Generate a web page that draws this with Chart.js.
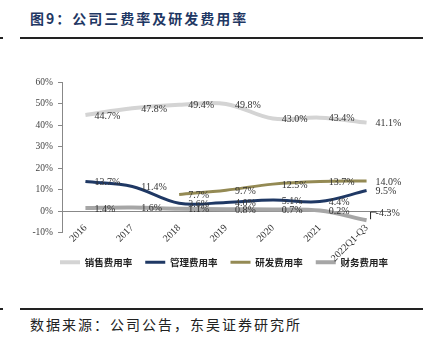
<!DOCTYPE html>
<html>
<head>
<meta charset="utf-8">
<script src="https://cdn.jsdelivr.net/npm/chart.js@4.4.0/dist/chart.umd.min.js"></script>
<style>
  html, body { margin: 0; padding: 0; background: #fff; }
  body { width: 434px; height: 350px; position: relative; overflow: hidden; }
  .title { position: absolute; left: 30px; top: 8px; font: bold 14px "Noto Sans CJK SC", serif; letter-spacing: 2px; color: #1F3864; }
  .rule { position: absolute; left: 20px; width: 403px; height: 2px; background: #222; }
  .dash { position: absolute; left: 0; width: 3px; height: 2px; background: #222; }
  .src { position: absolute; left: 30px; top: 314px; font: 14px "Noto Sans CJK SC", serif; letter-spacing: 2px; color: #222; }
  #wrap { position: absolute; left: 0; top: 60px; width: 434px; height: 220px; }
</style>
</head>
<body>
<div class="title">图9：公司三费率及研发费用率</div>
<div class="dash" style="top:37px"></div>
<div class="rule" style="top:37px"></div>
<div id="wrap"><canvas id="feeChart"></canvas></div>
<div class="dash" style="top:308px"></div>
<div class="rule" style="top:308px"></div>
<div class="src">数据来源：公司公告，东吴证券研究所</div>
<script>
const years = ['2016', '2017', '2018', '2019', '2020', '2021', '2022Q1-Q3'];
const salesRate = [44.7, 47.8, 49.4, 49.8, 43.0, 43.4, 41.1];
const adminRate = [13.7, 11.4, 3.6, 4.0, 5.1, 4.4, 9.5];
const rdRate = [null, null, 7.7, 9.7, 12.5, 13.7, 14.0];
const financeRate = [1.4, 1.6, 1.1, 0.8, 0.7, 0.2, -4.3];
const yTicks = [-10, 0, 10, 20, 30, 40, 50, 60];

// value labels to the right of each point
const pointLabels = {
    id: 'pointLabels',
    afterDatasetsDraw(chart) {
        const ctx = chart.ctx;
        const yScale = chart.scales.y;
        ctx.save();
        ctx.font = '10px "Liberation Serif"';
        ctx.fillStyle = '#333';
        ctx.textAlign = 'left';
        ctx.textBaseline = 'middle';
        chart.data.datasets.forEach(function (ds, i) {
            const meta = chart.getDatasetMeta(i);
            meta.data.forEach(function (pt, j) {
                const v = ds.data[j];
                if (v === null) return;
                let y = pt.y + 1;
                if (v < 0) {
                    // leader line up to the zero line
                    const y0 = yScale.getPixelForValue(0);
                    ctx.strokeStyle = '#222';
                    ctx.lineWidth = 1;
                    ctx.beginPath();
                    ctx.moveTo(pt.x + 4, pt.y - 1);
                    ctx.lineTo(pt.x + 4, y0 + 1);
                    ctx.lineTo(pt.x + 10, y0 + 1);
                    ctx.stroke();
                    y = y0 + 2;
                }
                ctx.fillText(v.toFixed(1) + '%', pt.x + 9, y);
            });
        });
        ctx.restore();
    }
};

// leave room under the axis for the rotated year labels
const legendShift = {
    id: 'legendShift',
    afterLayout(chart) {
        const lg = chart.legend;
        if (lg) {
            lg.top += 12;
            lg.bottom += 12;
            lg.left += 29;
            lg.right += 29;
        }
    }
};

new Chart(document.getElementById('feeChart'), {
    type: 'line',
    data: {
        labels: years,
        datasets: [
            { label: '销售费用率', data: salesRate, borderColor: '#D4D4D4', backgroundColor: '#D4D4D4', borderWidth: 4 },
            { label: '管理费用率', data: adminRate, borderColor: '#1F3864', backgroundColor: '#1F3864', borderWidth: 3 },
            { label: '研发费用率', data: rdRate, borderColor: '#948A54', backgroundColor: '#948A54', borderWidth: 3 },
            { label: '财务费用率', data: financeRate, borderColor: '#A6A6A6', backgroundColor: '#A6A6A6', borderWidth: 4 }
        ]
    },
    options: {
        responsive: true,
        maintainAspectRatio: false,
        animation: false,
        elements: {
            point: { radius: 0 },
            line: { tension: 0.35 }
        },
        layout: { padding: { top: 22, right: 44, bottom: 15, left: 0 } },
        plugins: {
            tooltip: { enabled: false },
            legend: {
                position: 'bottom',
                labels: {
                    usePointStyle: true,
                    pointStyle: 'line',
                    pointStyleWidth: 20,
                    padding: 13,
                    color: '#222',
                    font: { family: '"Noto Sans CJK SC"', size: 9.5, weight: 'bold' }
                }
            }
        },
        scales: {
            x: {
                position: { y: 0 },
                offset: true,
                grid: { display: false },
                border: { display: true, color: '#888', width: 1 },
                ticks: {
                    minRotation: 45,
                    maxRotation: 45,
                    padding: 3,
                    color: '#333',
                    font: { family: '"Liberation Serif"', size: 10 }
                }
            },
            y: {
                min: -10,
                max: 60,
                afterFit: function (scale) { scale.width = 62; },
                afterBuildTicks: function (scale) { scale.ticks = yTicks.map(v => ({ value: v })); },
                grid: { drawOnChartArea: false, drawTicks: true, tickLength: 4, color: '#888' },
                border: { display: true, color: '#888', width: 1 },
                ticks: {
                    padding: 5,
                    color: '#444',
                    font: { family: '"Liberation Serif"', size: 9.5 },
                    callback: function (v) { return v + '%'; }
                }
            }
        }
    },
    plugins: [pointLabels, legendShift]
});
</script>
</body>
</html>
